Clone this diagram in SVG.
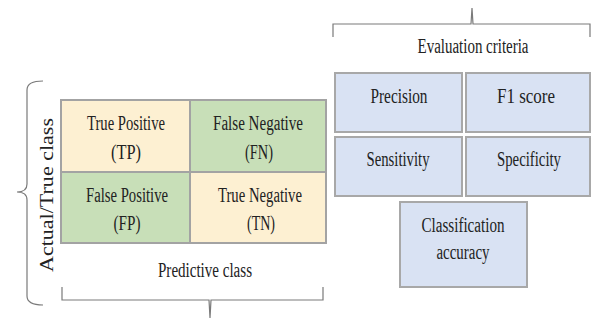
<svg xmlns="http://www.w3.org/2000/svg" width="592" height="323" viewBox="0 0 592 323">
<style>
.t{font-family:"Liberation Serif","Times New Roman",serif;font-size:20.5px;fill:#222;text-anchor:middle}
.y{fill:#fdf0d2;stroke:#a3a3a3;stroke-width:2}
.g{fill:#c8dfb8;stroke:#a3a3a3;stroke-width:2}
.b{fill:#d9e2f3;stroke:#a8a8a8;stroke-width:2}
.br{fill:none;stroke:#7a7a7a;stroke-width:1.2}
</style>
<rect width="592" height="323" fill="#fff"/>
<g id="braces">
<path class="br" d="M43,81 Q27,81 27,90 L27,184 Q27,192 17,192 Q27,192 27,200 L27,296 Q27,305 43,305"/>
<path class="br" d="M62,287 L62,300 L209,300 L210,318 L211,300 L323,300 L323,287"/>
<path class="br" d="M333,37 L333,24 L471,24 L472,8 L473,24 L590,24 L590,37"/>
</g>
<g id="TP"><rect class="y" x="61" y="100" width="129" height="72"/>
<text class="t" x="126" y="130" textLength="78" lengthAdjust="spacingAndGlyphs">True Positive</text>
<text class="t" x="126" y="159" textLength="30" lengthAdjust="spacingAndGlyphs">(TP)</text></g>
<g id="FN"><rect class="g" x="190" y="100" width="136" height="72"/>
<text class="t" x="258" y="130" textLength="90" lengthAdjust="spacingAndGlyphs">False Negative</text>
<text class="t" x="259" y="159" textLength="28" lengthAdjust="spacingAndGlyphs">(FN)</text></g>
<g id="FP"><rect class="g" x="61" y="172" width="129" height="71"/>
<text class="t" x="127" y="202" textLength="82" lengthAdjust="spacingAndGlyphs">False Positive</text>
<text class="t" x="127" y="230" textLength="27" lengthAdjust="spacingAndGlyphs">(FP)</text></g>
<g id="TN"><rect class="y" x="190" y="172" width="136" height="71"/>
<text class="t" x="260" y="202" textLength="84" lengthAdjust="spacingAndGlyphs">True Negative</text>
<text class="t" x="261" y="230" textLength="28" lengthAdjust="spacingAndGlyphs">(TN)</text></g>
<g id="labels">
<text class="t" x="205" y="277" textLength="94" lengthAdjust="spacingAndGlyphs">Predictive class</text>
<text class="t" transform="translate(53,195) rotate(-90)" x="0" y="0" style="font-size:19px" textLength="154" lengthAdjust="spacingAndGlyphs">Actual/True class</text>
<text class="t" x="473" y="53" textLength="111" lengthAdjust="spacingAndGlyphs">Evaluation criteria</text>
</g>
<g id="precision"><rect class="b" x="335" y="73" width="127" height="59"/>
<text class="t" x="399" y="103" textLength="57" lengthAdjust="spacingAndGlyphs">Precision</text></g>
<g id="f1"><rect class="b" x="466" y="73" width="124" height="59"/>
<text class="t" x="526" y="103" textLength="58" lengthAdjust="spacingAndGlyphs">F1 score</text></g>
<g id="sensitivity"><rect class="b" x="335" y="137" width="127" height="59"/>
<text class="t" x="398" y="166" textLength="63" lengthAdjust="spacingAndGlyphs">Sensitivity</text></g>
<g id="specificity"><rect class="b" x="466" y="137" width="124" height="59"/>
<text class="t" x="529" y="166" textLength="64" lengthAdjust="spacingAndGlyphs">Specificity</text></g>
<g id="accuracy"><rect class="b" x="400" y="202" width="127" height="85"/>
<text class="t" x="463" y="232" textLength="83" lengthAdjust="spacingAndGlyphs">Classification</text>
<text class="t" x="463" y="259" textLength="53" lengthAdjust="spacingAndGlyphs">accuracy</text></g>
</svg>
